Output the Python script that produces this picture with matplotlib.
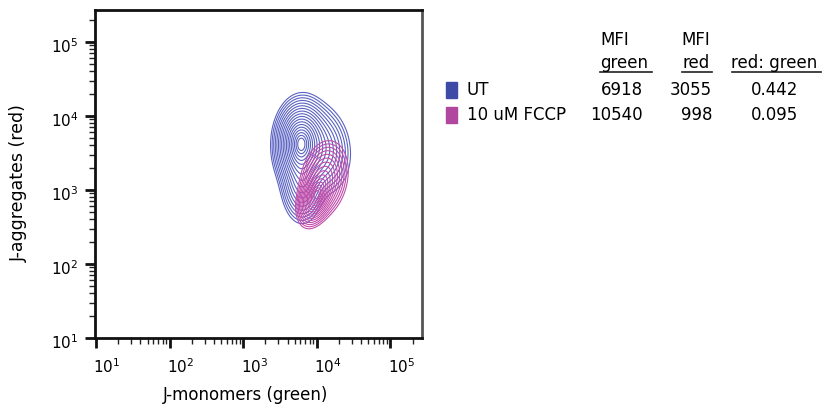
import numpy as np
import matplotlib.pyplot as plt
from matplotlib.lines import Line2D
from matplotlib.patches import Rectangle
from matplotlib.ticker import LogLocator, NullFormatter, FixedLocator, FixedFormatter
import matplotlib.transforms as mtransforms

# muestras y tabla de MFI
muestras = ['UT', '10 uM FCCP']
mfi_green = ['6918', '10540']
mfi_red = ['3055', '998']
ratio = ['0.442', '0.095']
colores_caja = ['#3d4ba6', '#b2479f']
colores_linea = ['#5a63c2', '#c24ca9']

# componentes de densidad (log10 x, log10 y, sx, sy, rho, peso)
comp_ut = [
    (3.77, 3.64, 0.15, 0.25, 0.05, 1.00),
    (3.80, 3.10, 0.13, 0.25, 0.00, 0.35),
    (4.05, 3.55, 0.19, 0.28, -0.10, 0.30),
]
comp_fccp = [
    (3.98, 2.90, 0.10, 0.16, 0.35, 1.00),
    (4.10, 3.15, 0.14, 0.22, 0.20, 0.50),
]
n_lineas = [18, 15]

ticks_dec = [1, 2, 3, 4, 5]

fig = plt.figure(figsize=(8.23, 4.04), dpi=100)
W, H = 823, 404
ax = fig.add_axes([95 / W, 1 - 338 / H, 327 / W, 328 / H])

lx = np.linspace(2.8, 5.0, 400)
ly = np.linspace(2.0, 4.8, 400)
LX, LY = np.meshgrid(lx, ly)


def densidad(comps):
    z = np.zeros_like(LX)
    for mx, my, sx, sy, rho, w in comps:
        dx = (LX - mx) / sx
        dy = (LY - my) / sy
        q = (dx ** 2 - 2 * rho * dx * dy + dy ** 2) / (1 - rho ** 2)
        z += w * np.exp(-0.5 * q)
    return z / z.max()


for comps, col, n in zip([comp_ut, comp_fccp], colores_linea, n_lineas):
    z = densidad(comps)
    r = np.linspace(2.7, 0.3, n)
    niveles = np.exp(-0.5 * r ** 2)
    ax.contour(10 ** LX, 10 ** LY, z, levels=niveles, colors=col, linewidths=0.8)

ax.set_xscale('log')
ax.set_yscale('log')
ax.set_xlim(10 ** 0.985, 10 ** 5.43)
ax.set_ylim(10 ** 1.0, 10 ** 5.43)

for a in (ax.xaxis, ax.yaxis):
    a.set_major_locator(FixedLocator([10.0 ** d for d in ticks_dec]))
    a.set_major_formatter(FixedFormatter([f'$10^{{{d}}}$' for d in ticks_dec]))
    a.set_minor_locator(LogLocator(base=10, subs=np.arange(2, 10), numticks=20))
    a.set_minor_formatter(NullFormatter())

ax.tick_params(which='major', length=7, width=2, labelsize=11, color='#111111')
ax.tick_params(which='minor', length=4, width=1, color='#222222')
ax.tick_params(axis='x', pad=7)
ax.tick_params(axis='y', pad=5)
off = mtransforms.ScaledTranslation(11 / 100, 0, fig.dpi_scale_trans)
for lab in ax.get_xticklabels():
    lab.set_transform(lab.get_transform() + off)
offy = mtransforms.ScaledTranslation(0, -3 / 100, fig.dpi_scale_trans)
for lab in ax.get_yticklabels():
    lab.set_transform(lab.get_transform() + offy)

for s in ['left', 'bottom', 'top']:
    ax.spines[s].set_linewidth(2)
    ax.spines[s].set_color('#111111')
ax.spines['right'].set_linewidth(2)
ax.spines['right'].set_color('#555555')

ax.set_xlabel('J-monomers (green)', fontsize=12)
ax.set_ylabel('J-aggregates (red)', fontsize=12.5)
ax.xaxis.set_label_coords(0.459, -0.146)
ax.yaxis.set_label_coords(-0.205, 0.473)


def px(x, y):
    return x / W, 1 - y / H


# encabezados de la tabla
fs = 12
for x, t in [(600, 'MFI'), (681, 'MFI')]:
    fig.text(*px(x, 40), t, fontsize=fs, va='center', ha='left')
for x, t in [(600, 'green'), (682, 'red'), (731, 'red: green')]:
    fig.text(*px(x, 63), t, fontsize=fs, va='center', ha='left')
for x0, x1 in [(600, 652), (682, 712), (732, 821)]:
    fig.add_artist(Line2D([x0 / W, x1 / W], [1 - 71.5 / H] * 2, color='#222222', lw=1.2))

filas_y = [90, 115]
for i, y in enumerate(filas_y):
    fig.add_artist(Rectangle(px(446, y + 7.5), 11 / W, 15 / H, color=colores_caja[i]))
    fig.text(*px(467, y), muestras[i], fontsize=fs, va='center', ha='left')
    fig.text(*px(643, y), mfi_green[i], fontsize=fs, va='center', ha='right')
    fig.text(*px(712, y), mfi_red[i], fontsize=fs, va='center', ha='right')
    fig.text(*px(798, y), ratio[i], fontsize=fs, va='center', ha='right')

fig.savefig('out.png', dpi=100)
